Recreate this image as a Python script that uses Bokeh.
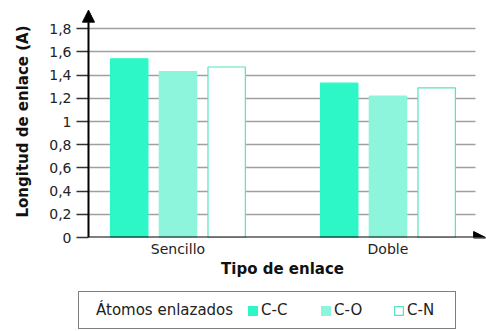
from bokeh.plotting import figure
from bokeh.layouts import column
from bokeh.models import Range1d, FixedTicker, Arrow, NormalHead, Legend, LegendItem, ColumnDataSource
from bokeh.embed import file_html
from bokeh.resources import INLINE

# ---- data ----
tipos = ["Sencillo", "Doble"]
series = ["C-C", "C-O", "C-N"]
cc = [1.54, 1.33]
co = [1.43, 1.22]
cn = [1.47, 1.29]
y_ticks = [0, 0.2, 0.4, 0.6, 0.8, 1.0, 1.2, 1.4, 1.6, 1.8]
y_tick_labels = ["0", "0,2", "0,4", "0,6", "0,8", "1", "1,2", "1,4", "1,6", "1,8"]
legend_title = "Átomos enlazados"

FONT = "DejaVu Sans"
fills = ["#2df7c6", "#8cf5dc", "#ffffff"]
lines = ["#2df7c6", "#8cf5dc", "#55e3c0"]
offsets = [-0.232, 0.0, 0.232]
bar_w = 0.178

xpos = list(range(len(tipos)))
x0 = -0.426        # position of the y axis line (data units)
x_grid_end = 1.417

p = figure(width=486, height=285, output_backend="svg", toolbar_location=None,
           x_range=Range1d(-0.4736, 1.4693), y_range=Range1d(0, 2.0),
           min_border_left=78, min_border_right=0, min_border_top=5, min_border_bottom=48)
p.outline_line_color = None

bar_renderers = []
for vals, off, fc, lc in zip([cc, co, cn], offsets, fills, lines):
    src = ColumnDataSource(dict(x=[x + off for x in xpos], top=vals))
    r = p.vbar(x="x", top="top", width=bar_w, source=src, fill_color=fc, line_color=lc, line_width=1.2)
    bar_renderers.append(r)

# grid
p.xgrid.grid_line_color = None
yg = p.ygrid[0]
yg.ticker = FixedTicker(ticks=y_ticks[1:])
yg.grid_line_color = "#a0a0a0"
yg.grid_line_width = 1.5
yg.level = "underlay"
if "cross_bounds" in yg.properties():
    yg.cross_bounds = (x0, x_grid_end)

# y axis
ya = p.yaxis[0]
ya.ticker = FixedTicker(ticks=y_ticks)
ya.major_label_overrides = {t: l for t, l in zip(y_ticks, y_tick_labels)}
ya.major_label_text_font = FONT
ya.major_label_text_font_size = "14px"
ya.major_label_text_color = "#222222"
ya.major_tick_out = 2
ya.major_tick_in = 10
ya.minor_tick_out = 0
ya.minor_tick_in = 0
ya.major_tick_line_color = "#333333"
ya.major_tick_line_width = 1.5
ya.axis_line_color = None
ya.axis_label = "Longitud de enlace (A)"
ya.axis_label_text_font = FONT
ya.axis_label_text_font_style = "bold"
ya.axis_label_text_font_size = "15px"
ya.axis_label_text_color = "#111111"
ya.axis_label_standoff = 14
ya.major_label_standoff = 5

# x axis
xa = p.xaxis[0]
xa.ticker = FixedTicker(ticks=xpos)
xa.major_label_overrides = {i: t for i, t in zip(xpos, tipos)}
xa.major_label_text_font = FONT
xa.major_label_text_font_size = "14px"
xa.major_label_text_color = "#222222"
xa.major_tick_out = 0
xa.major_tick_in = 0
xa.minor_tick_out = 0
xa.minor_tick_in = 0
xa.axis_line_color = None
xa.major_label_standoff = 3
xa.axis_label = "Tipo de enlace"
xa.axis_label_text_font = FONT
xa.axis_label_text_font_style = "bold"
xa.axis_label_text_font_size = "15px"
xa.axis_label_text_color = "#111111"
xa.axis_label_standoff = 0

# arrows for axes
p.add_layout(Arrow(end=NormalHead(size=12, fill_color="black", line_color="black"),
                   x_start=x0, y_start=0, x_end=x0, y_end=1.96,
                   line_color="black", line_width=2))
p.add_layout(Arrow(end=NormalHead(size=12, fill_color="black", line_color="black"),
                   x_start=x0, y_start=0, x_end=1.465, y_end=0,
                   line_color="black", line_width=2))

# legend strip below
p2 = figure(width=486, height=46, output_backend="svg", toolbar_location=None,
            x_range=Range1d(0, 1), y_range=Range1d(0, 1), min_border=0,
            x_axis_location=None, y_axis_location=None)
p2.outline_line_color = None
p2.xgrid.visible = False
p2.ygrid.visible = False

dummy = p2.vbar(x=[-10], top=[0], width=0.01, fill_alpha=0, line_alpha=0)
items = [LegendItem(label=legend_title, renderers=[dummy])]
for s, fc, lc in zip(series, fills, lines):
    r = p2.vbar(x=[-10], top=[0], width=0.01, fill_color=fc, line_color=lc, line_width=1.2)
    items.append(LegendItem(label=s, renderers=[r]))

legend = Legend(items=items, orientation="horizontal", location=(0, 2),
                label_text_font=FONT, label_text_font_size="15px", label_text_color="#222222",
                glyph_width=11, glyph_height=11, label_standoff=3, label_width=45,
                label_height=30, spacing=14,
                padding=3, border_line_color="black", border_line_width=1.5,
                background_fill_color="white", background_fill_alpha=1)
p2.add_layout(legend, "center")

layout = column(p, p2, spacing=0)
open("out.html", "w").write(file_html(layout, INLINE))
